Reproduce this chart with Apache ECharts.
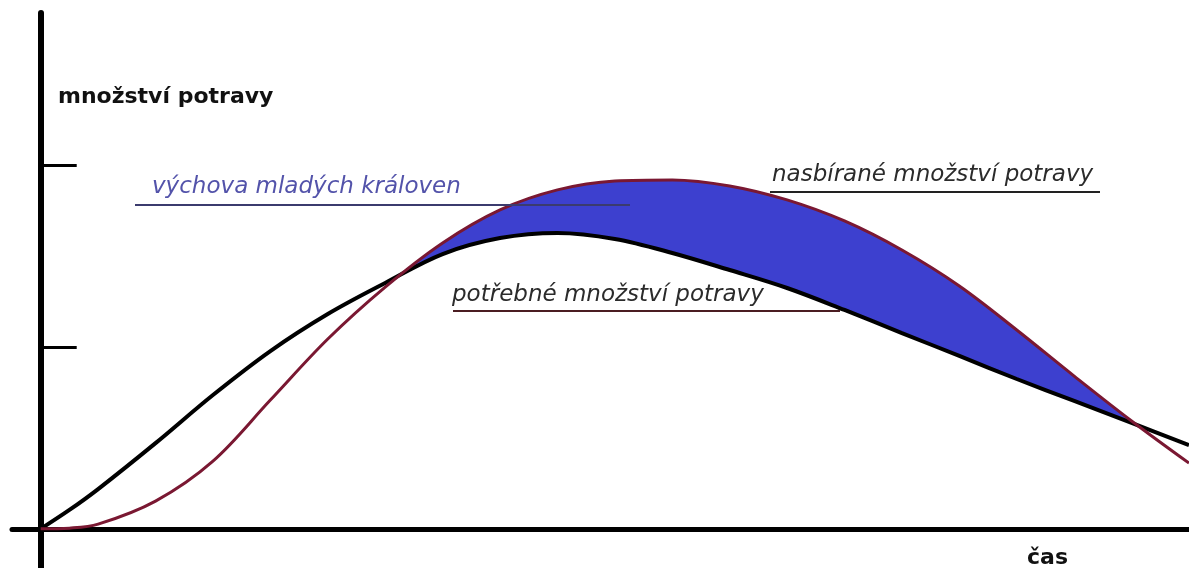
<!DOCTYPE html>
<html>
<head>
<meta charset="utf-8">
<script src="https://cdn.jsdelivr.net/npm/echarts@6/dist/echarts.min.js"></script>
<style>
html,body{margin:0;padding:0;background:#fff;}
#chart{width:1189px;height:568px;}
</style>
</head>
<body>
<div id="chart"></div>
<script>
// čas (x osa), 0..100
var casArr = [0, 2.5, 5, 10, 15, 20, 25, 30, 35, 40, 45, 50, 55, 60, 65, 70, 75, 80, 85, 90, 95, 100];
// potřebné množství potravy (černá)
var potrebneArr = [0, 0.104, 0.219, 0.472, 0.737, 0.979, 1.183, 1.354, 1.513, 1.601, 1.629, 1.596, 1.519, 1.425, 1.326, 1.205, 1.078, 0.952, 0.825, 0.704, 0.583, 0.461];
// nasbírané množství potravy (tmavě červená)
var nasbiraneArr = [0, 0.004, 0.026, 0.153, 0.373, 0.709, 1.045, 1.331, 1.574, 1.756, 1.866, 1.915, 1.921, 1.888, 1.811, 1.695, 1.535, 1.337, 1.095, 0.841, 0.594, 0.362];
// značky na ose y
var yTicks = [1, 2];
var hladkost = 0.35;

function pairs(vals){
	var out = [];
	for(var i=0;i<casArr.length;i++){
		out.push([casArr[i], vals[i]]);
	}
	return out;
}

var chart = echarts.init(document.getElementById('chart'));

var option = {
	animation: false,
	grid: {left: 12, right: 0, top: 13, bottom: 1},
	xAxis: {
		type: 'value',
		min: -2.5,
		max: 100,
		z: 3,
		axisLine: {onZero: true, lineStyle: {color: '#000', width: 5}},
		axisTick: {show: false},
		axisLabel: {show: false},
		splitLine: {show: false}
	},
	yAxis: {
		type: 'value',
		min: -0.21,
		max: 2.84,
		z: 3,
		axisLine: {show: true, onZero: true, lineStyle: {color: '#000', width: 6}},
		axisTick: {show: true, inside: true, length: 36, customValues: yTicks, lineStyle: {color: '#000', width: 3}},
		axisLabel: {show: false},
		splitLine: {show: false}
	},
	series: [
		{
			// modrá plocha pod nasbíraným množstvím
			type: 'line',
			data: pairs(nasbiraneArr),
			smooth: hladkost,
			symbol: 'none',
			lineStyle: {opacity: 0},
			areaStyle: {color: '#3d40cf', opacity: 1},
			z: 1
		},
		{
			// potřebné množství - bílá plocha zakryje zbytek modré
			type: 'line',
			data: pairs(potrebneArr),
			smooth: hladkost,
			symbol: 'none',
			lineStyle: {color: '#000', width: 4},
			areaStyle: {color: '#fff', opacity: 1},
			z: 2
		},
		{
			type: 'line',
			data: pairs(nasbiraneArr),
			smooth: hladkost,
			symbol: 'none',
			lineStyle: {color: '#7a1832', width: 3},
			z: 4
		}
	],
	graphic: [
		{type: 'text', x: 58, y: 97, z: 10, style: {text: 'množství potravy', font: 'bold 22px "DejaVu Sans"', fill: '#111', textVerticalAlign: 'middle'}},
		{type: 'text', x: 1027, y: 558, z: 10, style: {text: 'čas', font: 'bold 22px "DejaVu Sans"', fill: '#111', textVerticalAlign: 'middle'}},
		{type: 'text', x: 152, y: 187, z: 10, style: {text: 'výchova mladých královen', font: 'italic 23px "DejaVu Sans"', fill: '#5353aa', textVerticalAlign: 'middle'}},
		{type: 'line', z: 10, shape: {x1: 135, y1: 205, x2: 630, y2: 205}, style: {stroke: '#3b3b6e', lineWidth: 2}},
		{type: 'text', x: 772, y: 175, z: 10, style: {text: 'nasbírané množství potravy', font: 'italic 23px "DejaVu Sans"', fill: '#2b2b2b', textVerticalAlign: 'middle'}},
		{type: 'line', z: 10, shape: {x1: 770, y1: 192, x2: 1100, y2: 192}, style: {stroke: '#222', lineWidth: 2}},
		{type: 'text', x: 452, y: 295, z: 10, style: {text: 'potřebné množství potravy', font: 'italic 23px "DejaVu Sans"', fill: '#2b2b2b', textVerticalAlign: 'middle'}},
		{type: 'line', z: 10, shape: {x1: 453, y1: 311, x2: 840, y2: 311}, style: {stroke: '#4b1d22', lineWidth: 2}}
	]
};

chart.setOption(option);
</script>
</body>
</html>
